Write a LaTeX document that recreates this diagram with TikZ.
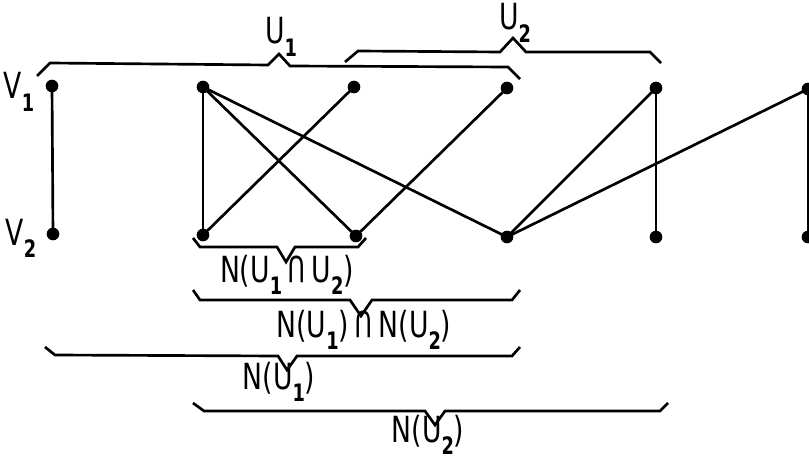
\documentclass[tikz,border=0pt]{standalone}
\usepackage{fontspec}
\usepackage{graphicx}
\setmainfont[FakeStretch=0.74]{DejaVu Sans}
\newcommand{\sbx}[1]{\raisebox{-0.34em}{\fontsize{18}{18}\selectfont\bfseries #1}}
\newcommand{\capsym}{\,\scalebox{0.9}[1]{\rotatebox[origin=c]{180}{U}}\,}
\begin{document}
\begin{tikzpicture}[x=0.75pt,y=-0.75pt,
  dot/.style={circle,fill=black,inner sep=0pt,minimum size=9.5pt},
  edge/.style={line width=2pt},
  brace/.style={line width=2pt,line join=miter},
  lab/.style={font=\fontsize{27}{27}\selectfont,inner sep=0pt}]
\useasboundingbox (0,0) rectangle (809,459);
\clip (0,0) rectangle (809,459);
% vertices
\node[dot] (a1) at (52,86) {};
\node[dot] (a2) at (203,87) {};
\node[dot] (a3) at (354,87) {};
\node[dot] (a4) at (507,88) {};
\node[dot] (a5) at (656,88) {};
\node[dot] (a6) at (808,89) {};
\node[dot] (b1) at (53,234) {};
\node[dot] (b2) at (203,235) {};
\node[dot] (b3) at (356,236) {};
\node[dot] (b4) at (507,237) {};
\node[dot] (b5) at (656,237) {};
\node[dot] (b6) at (808,237) {};
% edges
\draw[edge] (a1.center) -- (b1.center);
\draw[edge] (a2.center) -- (b2.center);
\draw[edge] (a2.center) -- (b3.center);
\draw[edge] (a2.center) -- (b4.center);
\draw[edge] (a3.center) -- (b2.center);
\draw[edge] (a4.center) -- (b3.center);
\draw[edge] (a5.center) -- (b4.center);
\draw[edge] (a5.center) -- (b5.center);
\draw[edge] (a6.center) -- (b4.center);
\draw[edge] (a6.center) -- (b6.center);
% side labels
\node[lab] (v1) at (19,92) {V\sbx{1}};
\node[lab] (v2) at (21,238) {V\sbx{2}};
% top braces
\draw[brace] (37,76) -- (50,63) -- (268,65) -- (279,54) -- (290,66) -- (508,67) -- (520,79);
\node[lab] (u1) at (281,37) {U\sbx{1}};
\draw[brace] (345,62) -- (358,51) -- (500,52) -- (513,38) -- (526,52) -- (650,52) -- (661,63);
\node[lab] (u2) at (515,23) {U\sbx{2}};
% bottom braces
\draw[brace] (193,238) -- (200,247) -- (277,247) -- (286,262) -- (295,247) -- (358,247) -- (366,238);
\node[lab] (n12) at (287,275) {N(U\sbx{1}\capsym U\sbx{2})};
\draw[brace] (193,290) -- (200,300) -- (350,300) -- (361,316) -- (372,300) -- (512,300) -- (520,290);
\node[lab] (n1n2) at (364,330) {N(U\sbx{1})\capsym N(U\sbx{2})};
\draw[brace] (45,347) -- (55,355) -- (278,356) -- (287,370) -- (297,356) -- (512,356) -- (520,347);
\node[lab] (n1) at (279,382) {N(U\sbx{1})};
\draw[brace] (193,403) -- (204,411) -- (425,411) -- (435,425) -- (445,411) -- (660,411) -- (668,403);
\node[lab] (n2) at (428,435) {N(U\sbx{2})};
\end{tikzpicture}
\end{document}
